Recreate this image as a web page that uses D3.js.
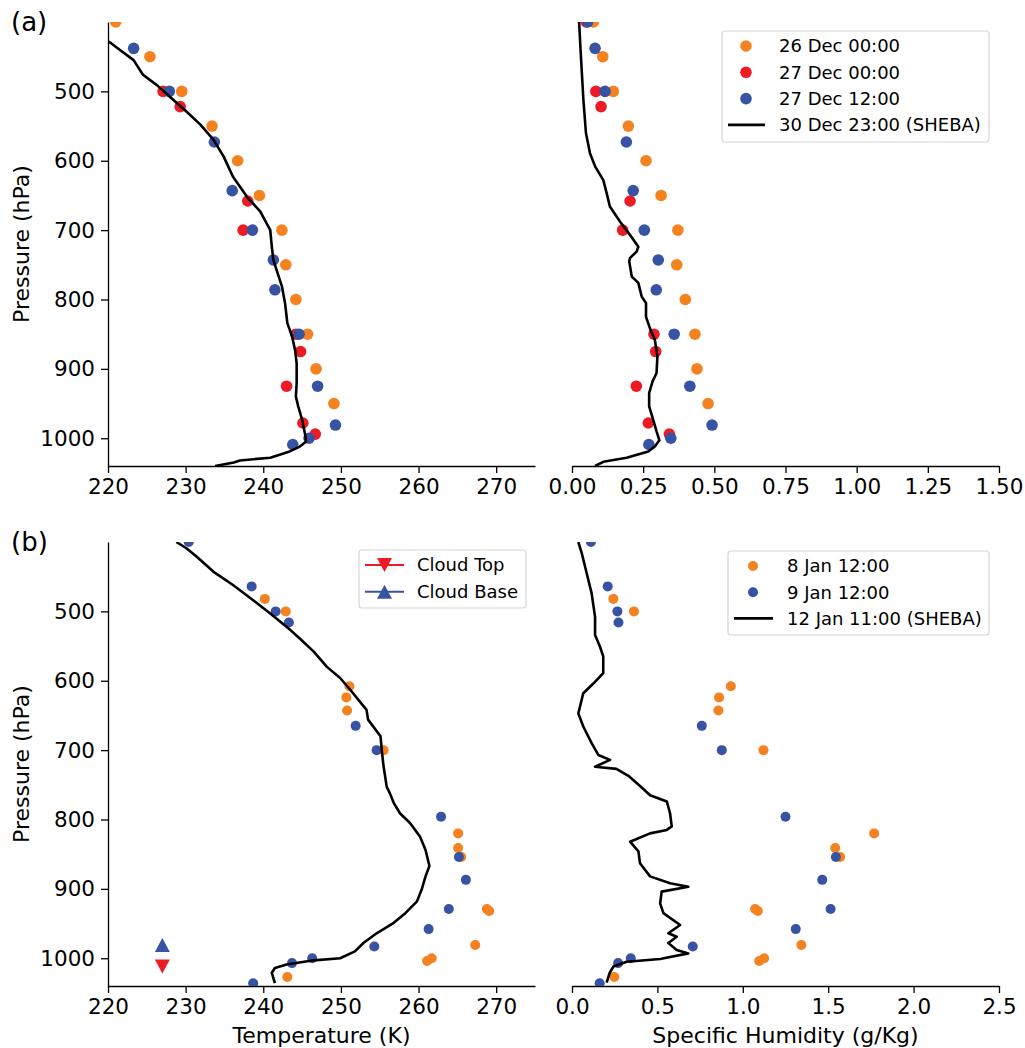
<!DOCTYPE html>
<html>
<head>
<meta charset="utf-8">
<script src="https://cdn.jsdelivr.net/npm/d3@7"></script>
<style>
body { margin: 0; background: #fff; }
text { font-family: "DejaVu Sans", sans-serif; fill: #000; }
</style>
</head>
<body>
<div id="chart"></div>
<script>
// ---- (a) soundings, late December ----
var dec26P = [400, 450, 500, 550, 600, 650, 700, 750, 800, 850, 900, 950];
var dec26T = [221.0, 225.4, 229.5, 233.4, 236.7, 239.5, 242.4, 242.9, 244.2, 245.7, 246.8, 249.1];
var dec26Q = [0.075, 0.108, 0.145, 0.198, 0.260, 0.313, 0.372, 0.368, 0.398, 0.432, 0.439, 0.478];

var dec27aP = [400, 500, 522, 658, 700, 850, 875, 925, 978, 994];
var dec27aT = [218.0, 227.1, 229.3, 238.0, 237.4, 244.2, 244.8, 243.0, 245.1, 246.7];
var dec27aQ = [0.050, 0.084, 0.102, 0.204, 0.178, 0.288, 0.294, 0.226, 0.268, 0.342];

var dec27bP = [400, 438, 500, 573, 643, 700, 743, 786, 850, 925, 981, 1000, 1009];
var dec27bT = [218.5, 223.3, 227.9, 233.7, 236.0, 238.6, 241.3, 241.5, 244.6, 247.0, 249.3, 245.9, 243.8];
var dec27bQ = [0.055, 0.081, 0.116, 0.191, 0.215, 0.254, 0.303, 0.296, 0.359, 0.414, 0.492, 0.347, 0.270];

// SHEBA 30 Dec 23:00
var shebaDecTP = [428, 440, 455, 476, 491, 508, 529, 548, 570, 594, 623, 652, 673, 700, 724, 743, 757, 781, 805, 834, 853, 873, 892, 921, 940, 954, 973, 995, 1005, 1012, 1019, 1028, 1032, 1035, 1040];
var shebaDecT = [220.1, 221.5, 223.3, 224.5, 226.3, 228.0, 230.1, 231.9, 233.6, 234.9, 236.1, 237.9, 239.6, 240.9, 241.1, 241.3, 241.7, 242.4, 242.8, 243.1, 243.7, 244.1, 244.3, 244.3, 244.2, 244.5, 245.0, 245.4, 245.5, 244.7, 243.4, 240.9, 237.0, 236.2, 233.8];
var shebaDecQP = [400, 440, 512, 560, 589, 608, 628, 647, 666, 688, 707, 724, 731, 740, 745, 767, 776, 796, 805, 825, 844, 858, 882, 906, 918, 935, 954, 973, 990, 1003, 1012, 1019, 1028, 1034, 1040];
var shebaDecQ = [0.025, 0.030, 0.040, 0.049, 0.063, 0.081, 0.110, 0.122, 0.133, 0.169, 0.204, 0.233, 0.227, 0.204, 0.201, 0.210, 0.233, 0.245, 0.260, 0.260, 0.276, 0.291, 0.300, 0.297, 0.283, 0.271, 0.271, 0.285, 0.297, 0.307, 0.291, 0.268, 0.192, 0.110, 0.081];

// ---- (b) soundings, January ----
var jan8P = [482, 500, 608, 624, 643, 700, 820, 841, 854, 929, 932, 981, 1000, 1004, 1027];
var jan8T = [240.2, 242.9, 251.1, 250.7, 250.8, 255.5, 265.1, 265.1, 265.5, 268.8, 269.1, 267.3, 261.7, 261.1, 243.1];
var jan8Q = [0.242, 0.363, 0.930, 0.861, 0.857, 1.121, 1.769, 1.541, 1.570, 1.072, 1.088, 1.343, 1.125, 1.096, 0.248];

var jan9P = [400, 464, 500, 516, 665, 700, 796, 854, 887, 929, 958, 983, 1000, 1007, 1036];
var jan9T = [230.4, 238.5, 241.6, 243.3, 251.9, 254.6, 262.9, 265.2, 266.1, 263.9, 261.3, 254.3, 246.3, 243.7, 238.7];
var jan9Q = [0.111, 0.209, 0.266, 0.272, 0.760, 0.877, 1.250, 1.545, 1.465, 1.514, 1.310, 0.707, 0.344, 0.270, 0.162];

// SHEBA 12 Jan 11:00
var shebaJanTP = [400, 409, 421, 443, 462, 484, 503, 527, 539, 558, 580, 596, 613, 642, 656, 680, 704, 724, 738, 753, 762, 776, 791, 805, 825, 844, 867, 882, 901, 918, 935, 949, 964, 978, 990, 1000, 1003, 1009, 1014, 1021, 1036];
var shebaJanT = [228.8, 230.1, 231.4, 233.6, 236.1, 238.7, 240.9, 243.5, 244.7, 246.5, 248.2, 249.9, 251.2, 253.3, 253.5, 255.1, 255.3, 255.5, 255.7, 255.9, 256.3, 256.8, 257.6, 258.9, 260.2, 260.9, 261.4, 260.9, 260.4, 259.8, 258.3, 256.8, 254.6, 252.9, 251.8, 249.9, 246.5, 243.0, 241.5, 241.1, 241.5];
var shebaJanQP = [400, 416, 445, 474, 508, 534, 551, 565, 589, 604, 618, 647, 666, 690, 707, 714, 724, 727, 737, 752, 765, 774, 791, 810, 815, 820, 832, 846, 863, 882, 892, 897, 904, 921, 935, 952, 964, 969, 978, 988, 993, 1001, 1005, 1012, 1022, 1035];
var shebaJanQ = [0.037, 0.057, 0.086, 0.115, 0.135, 0.135, 0.164, 0.183, 0.183, 0.125, 0.066, 0.037, 0.066, 0.115, 0.154, 0.223, 0.135, 0.260, 0.330, 0.400, 0.457, 0.555, 0.574, 0.584, 0.555, 0.457, 0.340, 0.389, 0.398, 0.457, 0.574, 0.681, 0.525, 0.516, 0.535, 0.633, 0.564, 0.613, 0.564, 0.613, 0.681, 0.516, 0.320, 0.242, 0.219, 0.203];

// cloud top / base (b)
var cloudT = [227.0];
var cloudTopP = [1012];
var cloudBaseP = [981];

var pTicks = [500, 600, 700, 800, 900, 1000];
var tTicks = [220, 230, 240, 250, 260, 270];
var qTicksA = [0, 0.25, 0.5, 0.75, 1.0, 1.25, 1.5];
var qTicksB = [0, 0.5, 1.0, 1.5, 2.0, 2.5];

var legendA = ["26 Dec 00:00", "27 Dec 00:00", "27 Dec 12:00", "30 Dec 23:00 (SHEBA)"];
var legendB = ["8 Jan 12:00", "9 Jan 12:00", "12 Jan 11:00 (SHEBA)"];
var legendCloud = ["Cloud Top", "Cloud Base"];

var orange = "#f58220", red = "#ed1c24", blue = "#3953a4";

var plotW = 427, plotH = 444;
var tickFont = 21.5;
var svg = d3.select("#chart").append("svg").attr("width", 1025).attr("height", 1048);
var defs = svg.append("defs");
var clipN = 0;

function panel(px, py, xDomain, xTicks, fmt, withY) {
    var x = d3.scaleLinear().domain(xDomain).range([0, plotW]);
    var y = d3.scaleLinear().domain([400, 1040]).range([0, plotH]);
    var g = svg.append("g").attr("transform", "translate(" + px + "," + py + ")");

    var ax = g.append("g")
        .attr("transform", "translate(0," + plotH + ")")
        .call(d3.axisBottom(x).tickValues(xTicks).tickFormat(fmt).tickSize(7).tickSizeOuter(0).tickPadding(6));
    ax.attr("font-size", tickFont).attr("font-family", "DejaVu Sans");
    ax.selectAll("path, line").attr("stroke-width", 1.3);

    if (withY) {
        var ay = g.append("g")
            .call(d3.axisLeft(y).tickValues(pTicks).tickFormat(d3.format("d")).tickSize(7).tickSizeOuter(0).tickPadding(6));
        ay.attr("font-size", tickFont).attr("font-family", "DejaVu Sans");
        ay.selectAll("path, line").attr("stroke-width", 1.3);
    }

    var id = "clip" + (clipN++);
    defs.append("clipPath").attr("id", id)
        .append("rect").attr("width", plotW).attr("height", plotH);
    var plot = g.append("g").attr("clip-path", "url(#" + id + ")");
    return {g: g, plot: plot, x: x, y: y};
}

function dots(p, xs, ps, color, r) {
    p.plot.append("g").selectAll("circle")
        .data(d3.zip(xs, ps))
        .enter().append("circle")
        .attr("cx", function (d) { return p.x(d[0]); })
        .attr("cy", function (d) { return p.y(d[1]); })
        .attr("r", r)
        .attr("fill", color);
}

function profile(p, xs, ps) {
    var line = d3.line()
        .x(function (d) { return p.x(d[0]); })
        .y(function (d) { return p.y(d[1]); });
    p.plot.append("path")
        .datum(d3.zip(xs, ps))
        .attr("d", line)
        .attr("fill", "none")
        .attr("stroke", "#000")
        .attr("stroke-width", 2.6)
        .attr("stroke-linejoin", "round");
}

// triangle marker, up or down, ~15px wide
function tri(up) {
    return up ? "M0,-7L7.5,7L-7.5,7Z" : "M0,7L7.5,-7L-7.5,-7Z";
}

function legendBox(x0, y0, w, h) {
    svg.append("rect")
        .attr("x", x0).attr("y", y0).attr("width", w).attr("height", h)
        .attr("rx", 3).attr("fill", "#fff").attr("fill-opacity", 0.8)
        .attr("stroke", "#d5d5d5").attr("stroke-width", 1.2);
}

function legendText(x0, y0, label) {
    svg.append("text").attr("x", x0).attr("y", y0).attr("dy", "0.36em")
        .attr("font-size", 18).text(label);
}

var f2 = d3.format(".2f"), f1 = d3.format(".1f"), f0 = d3.format("d");

// panel (a)
var aT = panel(108, 22, [220, 275], tTicks, f0, true);
var aQ = panel(572, 22, [0, 1.5], qTicksA, f2, false);

dots(aT, dec26T, dec26P, orange, 5.8);
dots(aT, dec27aT, dec27aP, red, 5.8);
dots(aT, dec27bT, dec27bP, blue, 5.8);
profile(aT, shebaDecT, shebaDecTP);

dots(aQ, dec26Q, dec26P, orange, 5.8);
dots(aQ, dec27aQ, dec27aP, red, 5.8);
dots(aQ, dec27bQ, dec27bP, blue, 5.8);
profile(aQ, shebaDecQ, shebaDecQP);

// panel (b)
var bT = panel(108, 542, [220, 275], tTicks, f0, true);
var bQ = panel(572, 542, [0, 2.5], qTicksB, f1, false);

dots(bT, jan8T, jan8P, orange, 5);
dots(bT, jan9T, jan9P, blue, 5);
profile(bT, shebaJanT, shebaJanTP);

bT.plot.append("path").attr("d", tri(true)).attr("fill", blue)
    .attr("transform", "translate(" + bT.x(cloudT[0]) + "," + bT.y(cloudBaseP[0]) + ")");
bT.plot.append("path").attr("d", tri(false)).attr("fill", red)
    .attr("transform", "translate(" + bT.x(cloudT[0]) + "," + bT.y(cloudTopP[0]) + ")");

dots(bQ, jan8Q, jan8P, orange, 5);
dots(bQ, jan9Q, jan9P, blue, 5);
profile(bQ, shebaJanQ, shebaJanQP);

// legend (a)
legendBox(722, 31, 267, 111);
var colA = [orange, red, blue];
legendA.forEach(function (name, i) {
    var cy = 46 + i * 26.3;
    if (i < 3) {
        svg.append("circle").attr("cx", 746).attr("cy", cy).attr("r", 5.8).attr("fill", colA[i]);
    } else {
        svg.append("line").attr("x1", 728).attr("x2", 765).attr("y1", cy).attr("y2", cy)
            .attr("stroke", "#000").attr("stroke-width", 2.6);
    }
    legendText(779, cy, name);
});

// legend cloud (b)
legendBox(359, 550, 167, 58);
var colC = [red, blue];
legendCloud.forEach(function (name, i) {
    var cy = 565 + i * 26.7;
    svg.append("line").attr("x1", 365).attr("x2", 404).attr("y1", cy).attr("y2", cy)
        .attr("stroke", colC[i]).attr("stroke-width", 2);
    svg.append("path").attr("d", tri(i === 1)).attr("fill", colC[i])
        .attr("transform", "translate(384.5," + cy + ")");
    legendText(417, cy, name);
});

// legend (b)
legendBox(728, 551, 261, 84);
var colB = [orange, blue];
legendB.forEach(function (name, i) {
    var cy = 566 + i * 26.2;
    if (i < 2) {
        svg.append("circle").attr("cx", 753).attr("cy", cy).attr("r", 5).attr("fill", colB[i]);
    } else {
        svg.append("line").attr("x1", 734).attr("x2", 773).attr("y1", cy).attr("y2", cy)
            .attr("stroke", "#000").attr("stroke-width", 2.6);
    }
    legendText(787, cy, name);
});

// labels
svg.append("text").attr("x", 11).attr("y", 31).attr("font-size", 26).text("(a)");
svg.append("text").attr("x", 11).attr("y", 551).attr("font-size", 26).text("(b)");

[244, 764].forEach(function (cy) {
    svg.append("text")
        .attr("transform", "translate(29," + cy + ") rotate(-90)")
        .attr("text-anchor", "middle").attr("font-size", 22)
        .text("Pressure (hPa)");
});
svg.append("text").attr("x", 321.5).attr("y", 1043).attr("text-anchor", "middle")
    .attr("font-size", 22).text("Temperature (K)");
svg.append("text").attr("x", 785.5).attr("y", 1043).attr("text-anchor", "middle")
    .attr("font-size", 22).text("Specific Humidity (g/Kg)");
</script>
</body>
</html>
